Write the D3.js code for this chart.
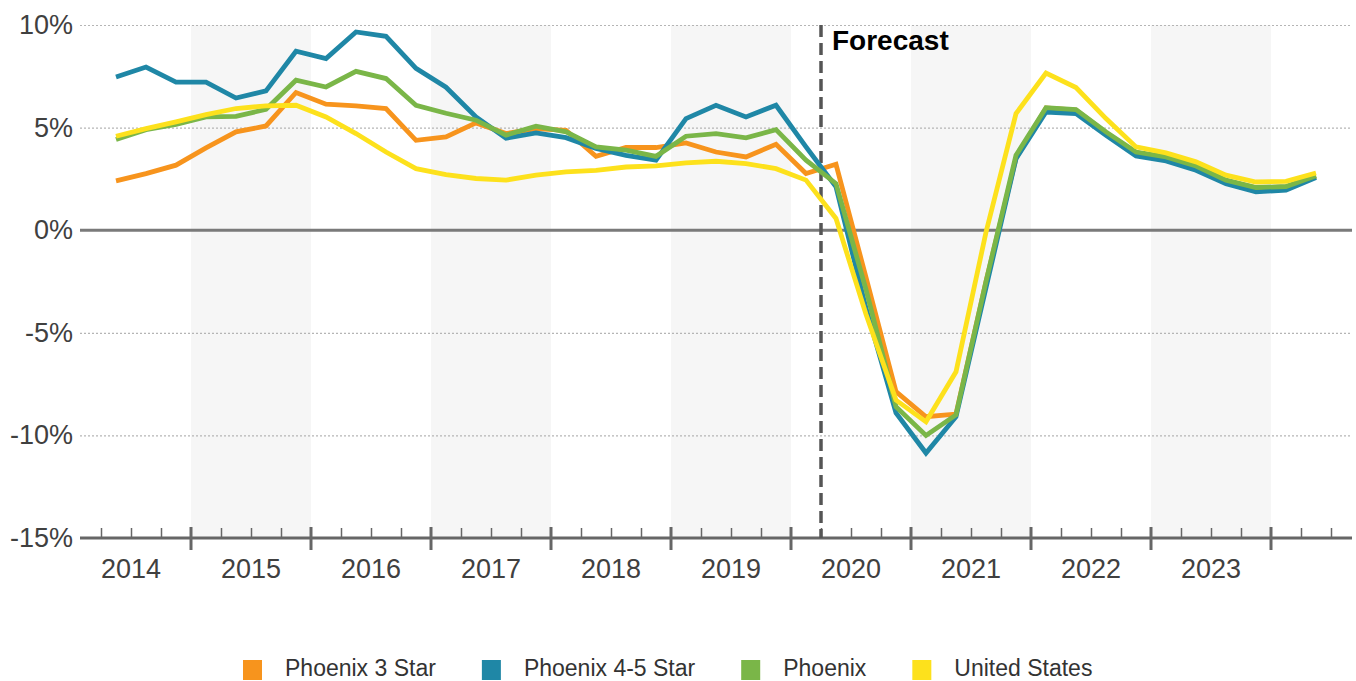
<!DOCTYPE html>
<html>
<head>
<meta charset="utf-8">
<script src="https://cdn.jsdelivr.net/npm/d3@7"></script>
<style>
  html, body { margin: 0; padding: 0; background: #fff; }
  svg { display: block; font-family: "Liberation Sans", Arial, sans-serif; }
</style>
</head>
<body>
<svg id="chart" width="1356" height="681"></svg>
<script>
// ---- Data (quarterly rent growth, %) ---------------------------------------
const QUARTERS = [
  '2014Q2','2014Q3','2014Q4','2015Q1','2015Q2','2015Q3','2015Q4','2016Q1','2016Q2','2016Q3','2016Q4',
  '2017Q1','2017Q2','2017Q3','2017Q4','2018Q1','2018Q2','2018Q3','2018Q4','2019Q1','2019Q2','2019Q3',
  '2019Q4','2020Q1','2020Q2','2020Q3','2020Q4','2021Q1','2021Q2','2021Q3','2021Q4','2022Q1','2022Q2',
  '2022Q3','2022Q4','2023Q1','2023Q2','2023Q3','2023Q4','2024Q1','2024Q2'
];
const PHX_3STAR = [2.4, 2.76, 3.17, 4.01, 4.79, 5.08, 6.71, 6.14, 6.06, 5.93, 4.38,
  4.55, 5.23, 4.71, 4.95, 4.87, 3.6, 4.03, 4.03, 4.25, 3.81, 3.57,
  4.19, 2.76, 3.21, -2.3, -7.87, -9.09, -8.96, -2.5, 3.5, 5.95, 5.85,
  4.75, 3.78, 3.55, 3.1, 2.42, 2.06, 2.11, 2.63];
const PHX_45STAR = [7.47, 7.95, 7.22, 7.22, 6.44, 6.79, 8.72, 8.36, 9.66, 9.45, 7.89,
  6.97, 5.52, 4.48, 4.74, 4.51, 3.98, 3.65, 3.41, 5.44, 6.09, 5.52,
  6.09, 4.06, 2.11, -3.8, -8.9, -10.86, -9.09, -2.8, 3.49, 5.76, 5.68,
  4.63, 3.62, 3.38, 2.92, 2.27, 1.87, 1.95, 2.57];
const PHOENIX = [4.42, 4.9, 5.16, 5.52, 5.55, 5.89, 7.31, 6.98, 7.74, 7.39, 6.09,
  5.7, 5.36, 4.63, 5.07, 4.79, 4.06, 3.9, 3.6, 4.58, 4.71, 4.5,
  4.9, 3.41, 2.27, -2.9, -8.6, -10.0, -9.0, -2.5, 3.65, 5.97, 5.88,
  4.79, 3.81, 3.57, 3.13, 2.44, 2.08, 2.13, 2.65];
const US = [4.58, 4.95, 5.28, 5.63, 5.93, 6.06, 6.09, 5.52, 4.71, 3.81, 3.0,
  2.71, 2.52, 2.44, 2.68, 2.84, 2.92, 3.08, 3.13, 3.28, 3.36, 3.25,
  3.0, 2.44, 0.57, -4.1, -8.28, -9.34, -6.9, -0.1, 5.68, 7.66, 6.95,
  5.44, 4.06, 3.77, 3.33, 2.68, 2.35, 2.38, 2.79];

const SERIES = [
  { name: 'Phoenix 3 Star',   color: '#f7941d', values: PHX_3STAR },
  { name: 'Phoenix 4-5 Star', color: '#1f87a6', values: PHX_45STAR },
  { name: 'Phoenix',          color: '#7ab648', values: PHOENIX },
  { name: 'United States',    color: '#fde11c', values: US }
];
const YEARS       = [2014, 2015, 2016, 2017, 2018, 2019, 2020, 2021, 2022, 2023];
const SHADED      = [2015, 2017, 2019, 2021, 2023];
const Y_TICKS     = [10, 5, 0, -5, -10, -15];
const FORECAST_AT = 2020.25;

// ---- Scales ----------------------------------------------------------------
const W = 1356, H = 681;
const PLOT = { left: 80, right: 1352, top: 25, bottom: 538 };

const x = d3.scaleLinear().domain([2014, 2024]).range([71, 1271]);
const y = d3.scaleLinear().domain([-15, 10]).range([PLOT.bottom, PLOT.top]);

// quarter label -> mid-quarter position in fractional years
const qTime = q => +q.slice(0, 4) + (+q.slice(5) - 1) / 4 + 0.125;

const svg = d3.select('#chart');
svg.append('rect').attr('width', W).attr('height', H).attr('fill', '#fff');

// ---- Year shading ----------------------------------------------------------
svg.append('g').selectAll('rect').data(SHADED).join('rect')
  .attr('x', d => x(d)).attr('width', d => x(d + 1) - x(d))
  .attr('y', PLOT.top).attr('height', PLOT.bottom - PLOT.top)
  .attr('fill', '#f6f6f6');

// ---- Y grid + labels -------------------------------------------------------
svg.append('g')
  .attr('transform', `translate(${PLOT.left},0)`)
  .call(d3.axisLeft(y).tickValues(Y_TICKS.filter(v => v !== 0 && v !== -15))
    .tickFormat('').tickSize(-(1350 - PLOT.left)))
  .call(g => g.select('.domain').remove())
  .call(g => g.selectAll('.tick line').attr('stroke', '#b5b5b5')
    .attr('stroke-width', 1.2).attr('stroke-dasharray', '2,2'));

svg.append('g').selectAll('text').data(Y_TICKS).join('text')
  .attr('x', 73).attr('y', d => y(d)).attr('dy', '0.33em')
  .attr('text-anchor', 'end')
  .style('font-size', '27px').attr('fill', '#404040')
  .text(d => d + '%');

// zero line
svg.append('line')
  .attr('x1', PLOT.left).attr('x2', 1352)
  .attr('y1', y(0)).attr('y2', y(0))
  .attr('stroke', '#7a7a7a').attr('stroke-width', 3);

// ---- X axis ----------------------------------------------------------------
const minorTicks = d3.range(2014.25, 2024.76, 0.25).filter(t => Math.abs(t - Math.round(t)) > 0.01);
const majorTicks = d3.range(2015, 2025);

svg.append('g')
  .attr('transform', `translate(0,${PLOT.bottom})`)
  .call(d3.axisTop(x).tickValues(minorTicks).tickFormat('').tickSize(10).tickSizeOuter(0))
  .call(g => g.select('.domain').remove())
  .call(g => g.selectAll('.tick line').attr('stroke', '#666').attr('stroke-width', 1.5));

svg.append('g').selectAll('line').data(majorTicks).join('line')
  .attr('x1', d => x(d)).attr('x2', d => x(d))
  .attr('y1', PLOT.bottom - 11).attr('y2', PLOT.bottom + 12)
  .attr('stroke', '#666').attr('stroke-width', 3);

svg.append('line')
  .attr('x1', PLOT.left).attr('x2', 1352)
  .attr('y1', PLOT.bottom).attr('y2', PLOT.bottom)
  .attr('stroke', '#666').attr('stroke-width', 3);

svg.append('g').selectAll('text').data(YEARS).join('text')
  .attr('x', d => x(d + 0.5)).attr('y', 578)
  .attr('text-anchor', 'middle')
  .style('font-size', '27px').attr('fill', '#404040')
  .text(d => d);

// ---- Forecast marker -------------------------------------------------------
svg.append('line')
  .attr('x1', x(FORECAST_AT)).attr('x2', x(FORECAST_AT))
  .attr('y1', PLOT.top).attr('y2', PLOT.bottom)
  .attr('stroke', '#555').attr('stroke-width', 3.5)
  .attr('stroke-dasharray', '12,6');

svg.append('text')
  .attr('x', x(FORECAST_AT) + 11).attr('y', 50)
  .style('font-size', '28px').style('font-weight', 700).attr('fill', '#000')
  .text('Forecast');

// ---- Lines -----------------------------------------------------------------
const line = d3.line()
  .x((d, i) => x(qTime(QUARTERS[i])))
  .y(d => y(d));

svg.append('g').selectAll('path').data(SERIES).join('path')
  .attr('d', d => line(d.values))
  .attr('fill', 'none')
  .attr('stroke', d => d.color)
  .attr('stroke-width', 4.8)
  .attr('stroke-linejoin', 'miter');

// ---- Legend ----------------------------------------------------------------
const legend = svg.append('g');
let lx = 243;
SERIES.forEach(s => {
  legend.append('rect')
    .attr('x', lx).attr('y', 660).attr('width', 19).attr('height', 20)
    .attr('fill', s.color);
  const t = legend.append('text')
    .attr('x', lx + 42).attr('y', 676)
    .style('font-size', '23px').attr('fill', '#333')
    .text(s.name);
  lx += 42 + t.node().getComputedTextLength() + 46;
});
</script>
</body>
</html>
